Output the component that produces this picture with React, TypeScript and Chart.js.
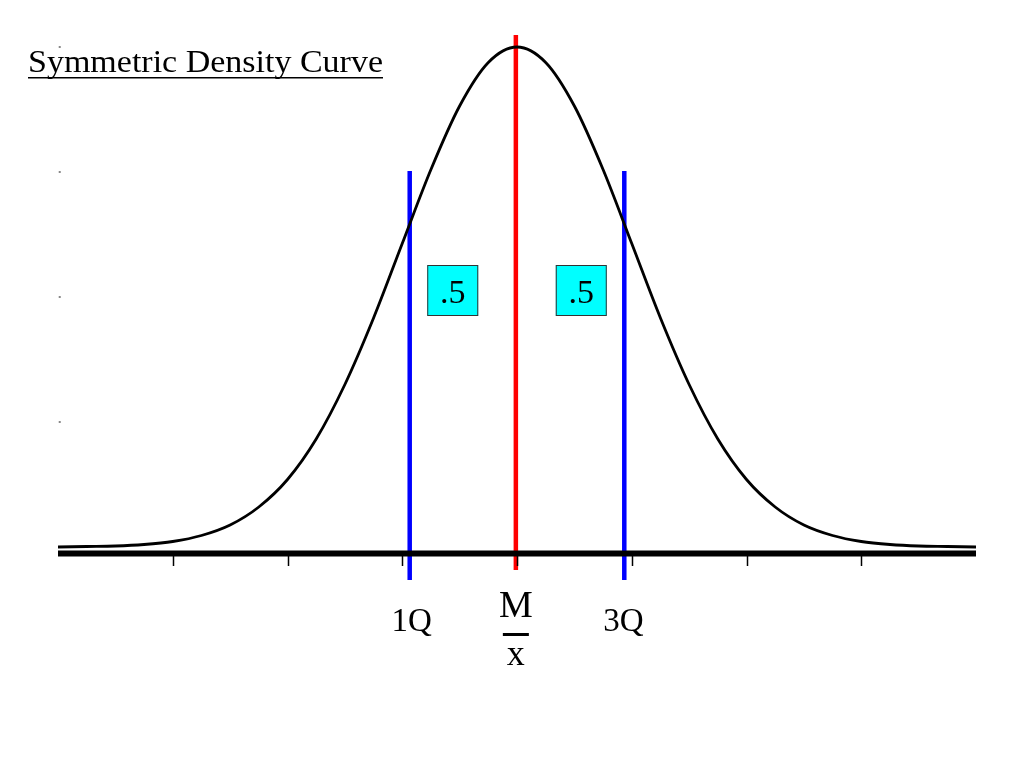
import React, { useEffect, useRef } from "react";
import { Chart, registerables } from "chart.js";

Chart.register(...registerables);

// Density curve (x in tick units, height relative to peak)
const curveX = [-4, -3.75, -3.5, -3.25, -3, -2.75, -2.5, -2.25, -2, -1.75, -1.5, -1.25, -1, -0.75, -0.5, -0.25, 0,
  0.25, 0.5, 0.75, 1, 1.25, 1.5, 1.75, 2, 2.25, 2.5, 2.75, 3, 3.25, 3.5, 3.75, 4];
const curveY = [0.0, 0.001, 0.002, 0.005, 0.011, 0.023, 0.044, 0.08, 0.135, 0.216, 0.325, 0.458, 0.607, 0.755, 0.882, 0.969, 1.0,
  0.969, 0.882, 0.755, 0.607, 0.458, 0.325, 0.216, 0.135, 0.08, 0.044, 0.023, 0.011, 0.005, 0.002, 0.001, 0.0];

const axisX = [-4, 4];
const axisY = [-0.013, -0.013];
const tickValues = [-3, -2, -1, 0, 1, 2, 3];
const yDotValues = [0.25, 0.5, 0.75, 1.0];

const q1X = -0.935;
const q3X = 0.935;
const medianX = -0.01;
const quartileLineY = [-0.066, 0.752];
const medianLineY = [-0.046, 1.024];

const boxLabels = [".5", ".5"];
const boxX = [-0.56, 0.56];
const boxY = 0.513;
const titleText = "Symmetric Density Curve";
const q1Label = "1Q";
const q3Label = "3Q";
const medianLabel = "M";
const meanLabel = "x";

const SERIF = "'Liberation Serif', 'Times New Roman', serif";

const overlayPlugin = {
  id: "overlay",
  afterDatasetsDraw(chart: any) {
    const ctx = chart.ctx as CanvasRenderingContext2D;
    const xs = chart.scales.x;
    const ys = chart.scales.y;
    ctx.save();

    // tick marks below axis
    ctx.strokeStyle = "#000";
    ctx.lineWidth = 1.5;
    const tTop = ys.getPixelForValue(-0.013);
    const tBot = ys.getPixelForValue(-0.038);
    tickValues.forEach((v) => {
      const px = Math.round(xs.getPixelForValue(v)) + 0.5;
      ctx.beginPath();
      ctx.moveTo(px, tTop);
      ctx.lineTo(px, tBot);
      ctx.stroke();
    });

    // faint y tick dots
    ctx.fillStyle = "#888";
    yDotValues.forEach((v) => {
      const px = xs.getPixelForValue(-3.985);
      const py = ys.getPixelForValue(v);
      ctx.fillRect(px - 1, py - 1, 2, 2);
    });

    // boxes
    boxLabels.forEach((lab, i) => {
      const cx = xs.getPixelForValue(boxX[i]);
      const cy = ys.getPixelForValue(boxY);
      const s = 51;
      ctx.fillStyle = "#00FFFF";
      ctx.fillRect(cx - s / 2, cy - s / 2, s, s);
      ctx.strokeStyle = "#333";
      ctx.lineWidth = 1;
      ctx.strokeRect(cx - s / 2 + 0.5, cy - s / 2 + 0.5, s - 1, s - 1);
      ctx.fillStyle = "#000";
      ctx.font = `34px ${SERIF}`;
      ctx.textAlign = "center";
      ctx.textBaseline = "alphabetic";
      ctx.fillText(lab, cx, cy + 12);
    });

    // axis labels
    ctx.fillStyle = "#000";
    ctx.textAlign = "center";
    ctx.textBaseline = "alphabetic";
    ctx.font = `33px ${SERIF}`;
    ctx.fillText(q1Label, xs.getPixelForValue(q1X) + 2, 631);
    ctx.fillText(q3Label, xs.getPixelForValue(q3X) - 1, 631);
    const mx = xs.getPixelForValue(medianX);
    ctx.font = `38px ${SERIF}`;
    ctx.fillText(medianLabel, mx, 617);
    ctx.font = `36px ${SERIF}`;
    ctx.fillText(meanLabel, mx, 665);
    ctx.fillRect(mx - 13, 633, 26, 3);

    // title with underline
    ctx.textAlign = "left";
    ctx.font = `32px ${SERIF}`;
    const w = ctx.measureText(titleText).width;
    const targetW = 355;
    ctx.save();
    ctx.translate(28, 72);
    ctx.scale(targetW / w, 1);
    ctx.fillText(titleText, 0, 0);
    ctx.restore();
    ctx.fillRect(28, 77, targetW, 1.5);

    ctx.restore();
  },
};

export default function App() {
  const ref = useRef<HTMLCanvasElement | null>(null);
  useEffect(() => {
    if (!ref.current) return;
    const chart = new Chart(ref.current, {
      type: "line",
      data: {
        datasets: [
          {
            data: curveX.map((x, i) => ({ x, y: curveY[i] })),
            borderColor: "#000",
            borderWidth: 2.8,
            pointRadius: 0,
            cubicInterpolationMode: "monotone",
            fill: false,
          },
          {
            data: axisX.map((x, i) => ({ x, y: axisY[i] })),
            borderColor: "#000",
            borderWidth: 6,
            pointRadius: 0,
            borderCapStyle: "butt",
          },
          {
            data: quartileLineY.map((y) => ({ x: q1X, y })),
            borderColor: "#0000FF",
            borderWidth: 4.5,
            pointRadius: 0,
          },
          {
            data: quartileLineY.map((y) => ({ x: q3X, y })),
            borderColor: "#0000FF",
            borderWidth: 4.5,
            pointRadius: 0,
          },
          {
            data: medianLineY.map((y) => ({ x: medianX, y })),
            borderColor: "#FF0000",
            borderWidth: 4.5,
            pointRadius: 0,
          },
        ] as any,
      },
      options: {
        animation: false,
        responsive: false,
        devicePixelRatio: 1,
        layout: { padding: { left: 58, right: 48, top: 7, bottom: 21 } },
        plugins: { legend: { display: false }, tooltip: { enabled: false }, title: { display: false } },
        scales: {
          x: { type: "linear", min: -4, max: 4, display: false },
          y: { type: "linear", min: -0.4, max: 1.08, display: false },
        },
        elements: { line: { tension: 0 } },
      } as any,
      plugins: [overlayPlugin],
    });
    return () => chart.destroy();
  }, []);
  return (
    <div style={{ position: "absolute", left: 0, top: 0, width: 1024, height: 768, background: "#fff" }}>
      <canvas ref={ref} width={1024} height={768} style={{ display: "block" }} />
    </div>
  );
}
